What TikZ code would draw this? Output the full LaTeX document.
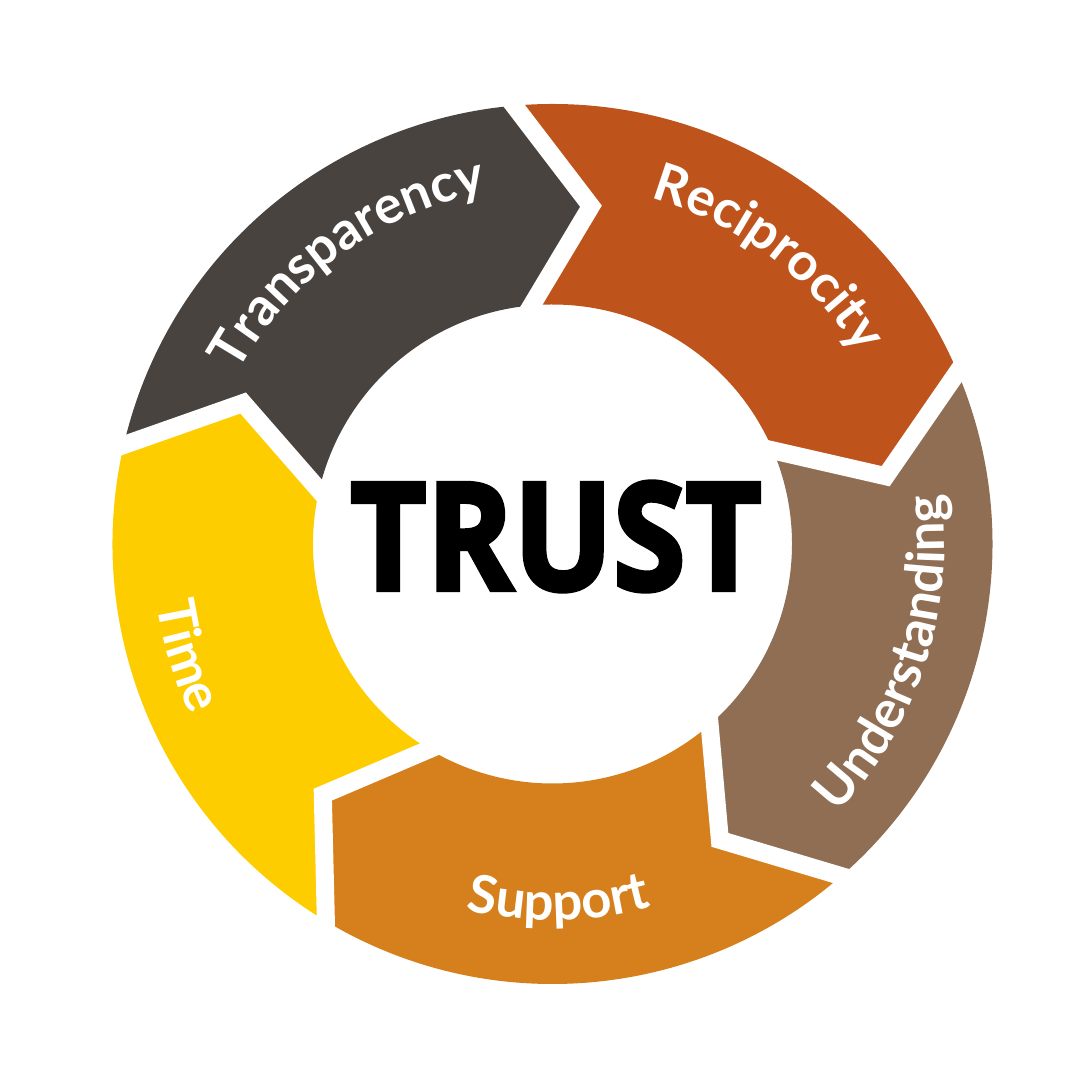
\documentclass[tikz,border=0pt]{standalone}
\usepackage{fontspec}
\usetikzlibrary{calc}

\newfontfamily\labelfont{Lato}
\newfontfamily\trustfont{Open Sans}[BoldFeatures={FakeBold=3}]

\definecolor{transgray}{RGB}{73,67,64}
\definecolor{recirust}{RGB}{190,83,28}
\definecolor{underbrown}{RGB}{143,110,84}
\definecolor{supportorange}{RGB}{213,128,28}
\definecolor{timeyellow}{RGB}{253,205,0}

% letters of #2 set round the centre: #3 mid angle, #4 baseline radius,
% #5 = 1 clockwise (tops out), -1 anticlockwise (tops in); #1 name prefix
\newcommand\arcword[5]{%
  \gdef\awtot{0}%
  \foreach \ch in {#2}{\pgfmathsetmacro\awtmp{\awtot+width("\ch")}\xdef\awtot{\awtmp}}%
  \pgfmathsetmacro\awk{57.29578/(#4*28.45274)}%
  \gdef\awcum{0}%
  \foreach \ch [count=\i] in {#2}{%
    \pgfmathsetmacro\aww{width("\ch")}%
    \pgfmathsetmacro\awang{#3+(#5)*(\awtot/2-\awcum-\aww/2)*\awk}%
    \pgfmathsetmacro\awrot{\awang-(#5)*90}%
    \node[lbl, rotate=\awrot] (#1-\i) at (\awang:#4) {\ch};%
    \pgfmathsetmacro\awtmp{\awcum+\aww}\xdef\awcum{\awtmp}%
  }%
}

\begin{document}
\begin{tikzpicture}[
  gap/.style={draw=white, line width=0.18cm, line join=miter},
  lbl/.style={text=white, inner sep=0, anchor=base}
]
\useasboundingbox (-5.525,-5.36) rectangle (5.275,5.44);

%% chevron points: outer, tip, inner
\coordinate (trO) at (95:4.4);   \coordinate (trT) at (83.5:3.4);   \coordinate (trI) at (95:2.395);
\coordinate (ruO) at (23:4.4);   \coordinate (ruT) at (11.5:3.4);   \coordinate (ruI) at (23:2.395);
\coordinate (usO) at (-49:4.4);  \coordinate (usT) at (-60.5:3.4);  \coordinate (usI) at (-49:2.395);
\coordinate (stO) at (-121:4.4); \coordinate (stT) at (-132.5:3.4); \coordinate (stI) at (-121:2.395);
\coordinate (ttO) at (167:4.4);  \coordinate (ttT) at (155.5:3.4);  \coordinate (ttI) at (167:2.395);

\fill[transgray] (ttO) arc[start angle=167, end angle=95, radius=4.4] -- (trT) -- (trI)
  arc[start angle=95, end angle=167, radius=2.395] -- (ttT) -- cycle;
\fill[recirust] (trO) arc[start angle=95, end angle=23, radius=4.4] -- (ruT) -- (ruI)
  arc[start angle=23, end angle=95, radius=2.395] -- (trT) -- cycle;
\fill[underbrown] (ruO) arc[start angle=23, end angle=-49, radius=4.4] -- (usT) -- (usI)
  arc[start angle=-49, end angle=23, radius=2.395] -- (ruT) -- cycle;
\fill[supportorange] (usO) arc[start angle=-49, end angle=-121, radius=4.4] -- (stT) -- (stI)
  arc[start angle=-121, end angle=-49, radius=2.395] -- (usT) -- cycle;
\fill[timeyellow] (stO) arc[start angle=239, end angle=167, radius=4.4] -- (ttT) -- (ttI)
  arc[start angle=167, end angle=239, radius=2.395] -- (stT) -- cycle;

%% white cuts between the arrows
\draw[gap] ($(trT)!1.3!(trO)$) -- (trT) -- ($(trT)!1.3!(trI)$);
\draw[gap] ($(ruT)!1.3!(ruO)$) -- (ruT) -- ($(ruT)!1.3!(ruI)$);
\draw[gap] ($(usT)!1.3!(usO)$) -- (usT) -- ($(usT)!1.3!(usI)$);
\draw[gap] ($(stT)!1.3!(stO)$) -- (stT) -- ($(stT)!1.3!(stI)$);
\draw[gap] ($(ttT)!1.3!(ttO)$) -- (ttT) -- ($(ttT)!1.3!(ttI)$);

\node[inner sep=0] (trust) at (0.035,0.075)
  {\trustfont\bfseries\fontsize{42.6}{44}\selectfont\scalebox{0.88}[1]{TRUST}};

{\labelfont\bfseries\fontsize{15}{17}\selectfont
\arcword{transp}{T,r,a,n,s,p,a,r,e,n,c,y}{126}{3.58}{1}
\arcword{recip}{R,e,c,i,p,r,o,c,i,t,y}{53}{3.60}{1}
\arcword{under}{U,n,d,e,r,s,t,a,n,d,i,n,g}{-18}{3.92}{-1}
\arcword{supp}{S,u,p,p,o,r,t}{-89}{3.76}{-1}
\arcword{time}{T,i,m,e}{197}{4.00}{-1}
}

\end{tikzpicture}
\end{document}
